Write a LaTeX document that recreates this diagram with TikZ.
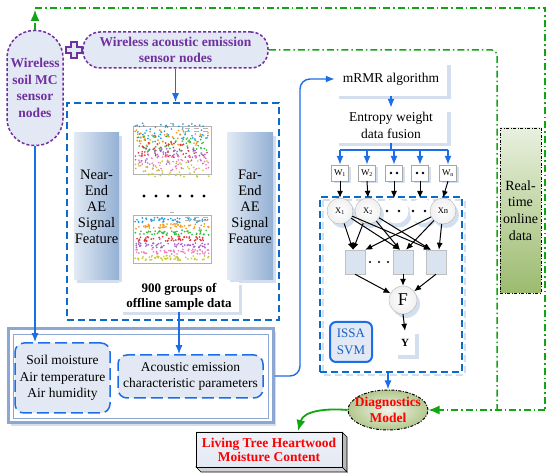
\documentclass[tikz,border=0pt]{standalone}
\usepackage{fontspec}
\setmainfont{Liberation Serif}
\usetikzlibrary{arrows.meta,shapes.geometric,calc}
\definecolor{pur}{HTML}{7030A0}
\definecolor{nodefill}{HTML}{E3E9F4}
\definecolor{bl}{HTML}{1C6EE8}
\definecolor{dbl}{HTML}{0A6CC8}
\definecolor{grn}{HTML}{12A512}
\definecolor{shadowbl}{HTML}{D3DFEF}
\definecolor{nearL}{HTML}{E2EAF4}
\definecolor{nearR}{HTML}{93B0D4}
\definecolor{outerbl}{HTML}{8CA7D3}
\definecolor{sqfill}{HTML}{DAE3F0}
\definecolor{rtTop}{HTML}{E8F0DE}
\definecolor{rtBot}{HTML}{9CBB6E}
\definecolor{dgIn}{HTML}{F0F4E6}
\definecolor{dgOut}{HTML}{B3C88E}
\definecolor{dotblue}{HTML}{1F9BE0}
\definecolor{dotorange}{HTML}{F39A1E}
\definecolor{dotgreen}{HTML}{2DBE3C}
\definecolor{dotred}{HTML}{E2363A}
\definecolor{dotpurple}{HTML}{A45FD0}
\definecolor{dotpink}{HTML}{F07AC0}
\definecolor{dotolive}{HTML}{C8C83A}
\newcommand\myscatter[3]{%
  \fill[white] (#1,#2) rectangle (#1+86,#2+60);
  \draw[gray!60,line width=0.3pt] (#1+6,#2+5) rectangle (#1+84,#2+53);
  \foreach \c [count=\i] in {dotblue,dotorange,dotgreen,dotred,dotpurple,dotpink,dotolive}{
    \foreach \k in {1,...,55}{
      \pgfmathsetmacro\px{#1+8+rnd*74}
      \pgfmathsetmacro\py{#2+10+(\i-1)*6.3+(rnd-0.5)*#3}
      \fill[\c] (\px,\py) circle (0.95pt);
    }}
  \foreach \k in {0,1,2}{\fill[gray!60] (#1+58+\k*9,#2+7) rectangle ++(5,0.6);
    \fill[gray!60] (#1+58+\k*9,#2+10) rectangle ++(5,0.6);}
  \fill[gray!60] (#1+43,#2+2) rectangle ++(4,0.7);
}
\begin{document}
\begin{tikzpicture}[x=1pt,y=-1pt,
  pnode/.style={draw=pur, line width=1.5pt, dash pattern=on 3pt off 2pt, fill=nodefill, text=pur,
    font=\fontsize{13.5}{16.5}\selectfont\bfseries, align=center, inner sep=0pt},
  gline/.style={draw=grn, line width=1.5pt, dash pattern=on 7pt off 3pt on 1.5pt off 3pt},
  bline/.style={draw=bl, line width=1.4pt},
  barrow/.style={bline, -{Latex[length=9pt,width=7pt]}},
  karrow/.style={draw=black, line width=1pt, -{Latex[length=7pt,width=6pt]}},
  dbox/.style={draw=dbl, line width=1.5pt, dash pattern=on 7pt off 4pt},
  txt/.style={font=\fontsize{13.5}{16.5}\selectfont, align=center, inner sep=0pt},
  wbox/.style={draw=gray!70, fill=white, minimum width=17pt, minimum height=16pt, inner sep=0pt,
    font=\fontsize{9}{10}\selectfont},
  cnode/.style={circle, draw=gray!60, inner color=white, outer color=gray!12, minimum size=26pt,
    inner sep=0pt, font=\fontsize{8.5}{9}\selectfont},
  sqnode/.style={draw=gray!50, fill=sqfill, minimum width=20pt, minimum height=24pt, inner sep=0pt},
]
\useasboundingbox (0,0) rectangle (550,476);
\fill[white] (0,0) rectangle (550,476);
\pgfmathsetseed{7}

% ---------- left part ----------
\node[pnode, minimum width=56pt, minimum height=115pt, rounded corners=27pt] (soilmc) at (35,88) {Wireless\\soil MC\\sensor\\nodes};
\node[pnode, minimum width=185pt, minimum height=36pt, rounded corners=17pt] (aenode) at (175.5,50) {Wireless acoustic emission\\sensor nodes};
\draw[pur, line width=1.3pt, fill=nodefill] (71,42)--(77,42)--(77,47)--(82,47)--(82,53)--(77,53)--(77,58)--(71,58)--(71,53)--(66,53)--(66,47)--(71,47)--cycle;

\node[dbox, minimum width=212pt, minimum height=217pt] (offbox) at (173,211.5) {};

\fill[shadowbl] (77,136) rectangle (122,283);
\node[left color=nearL, right color=nearR, minimum width=45pt, minimum height=147pt, txt,
  font=\fontsize{14.5}{16}\selectfont] (near) at (96.5,206.5) {Near-\\End\\AE\\Signal\\Feature};
\fill[shadowbl] (230,136) rectangle (276,283);
\node[left color=nearL, right color=nearR, minimum width=46pt, minimum height=147pt, txt,
  font=\fontsize{14.5}{16}\selectfont] (far) at (250,206.5) {Far-\\End\\AE\\Signal\\Feature};

\myscatter{127}{121}{16}
\myscatter{127}{210}{5}
\foreach \x in {144,156,168,180,192,204} \fill (\x,196) circle (1.6pt);

\fill[shadowbl] (123,285) rectangle (242,315);
\node[fill=white, minimum width=120pt, minimum height=30pt, txt, font=\fontsize{13}{15}\selectfont\bfseries]
  (groups) at (179,297) {900 groups of\\offline sample data};

\fill[shadowbl] (11,332) rectangle (276,426);
\node[draw=outerbl, line width=3pt, fill=white, minimum width=265pt, minimum height=94pt] (outer) at (140.5,376) {};
\draw[outerbl, line width=0.8pt] (13,334) rectangle (268,418);

\node[draw=bl, line width=1.5pt, dash pattern=on 12pt off 5pt, rounded corners=9pt, fill=nodefill,
  minimum width=95pt, minimum height=70pt, txt] (soilbox) at (62.5,378) {Soil moisture\\Air temperature\\Air humidity};
\node[draw=bl, line width=1.5pt, dash pattern=on 12pt off 5pt, rounded corners=9pt, fill=nodefill,
  minimum width=145pt, minimum height=43pt, txt] (acbox) at (190.5,376.5) {Acoustic emission\\characteristic parameters};

% ---------- right part ----------
\fill[shadowbl] (339,65) rectangle (451,99);
\node[fill=white, minimum width=112pt, minimum height=34pt, txt] (mrmr) at (391,79) {mRMR algorithm};
\fill[shadowbl] (339,112) rectangle (451,146);
\node[fill=white, minimum width=112pt, minimum height=35pt, txt] (entropy) at (391,125.5) {Entropy weight\\data fusion};

\foreach \n/\x in {1/340,2/367,3/394,4/420,5/448}{
  \fill[shadowbl] (\x-6.5,167) rectangle (\x+10.5,183);
}
\node[wbox] (w1) at (340,173) {W\textsubscript{1}};
\node[wbox] (w2) at (367,173) {W\textsubscript{2}};
\node[wbox] (w3) at (394,173) {};
\node[wbox] (w4) at (420,173) {};
\node[wbox] (w5) at (448,173) {W\textsubscript{n}};
\foreach \x in {394,420}{\fill (\x-3,173) circle (1.3pt); \fill (\x+3,173) circle (1.3pt);}

\draw[shadowbl, line width=1.5pt, dash pattern=on 7pt off 4pt] (323,200) rectangle (465,375);
\node[dbox, minimum width=142pt, minimum height=175pt] (inner) at (391,284.5) {};

% phantom circles
\fill[shadowbl] (399,215) circle (12.5pt); \fill[white] (396,211) circle (12.5pt);
\fill[shadowbl] (425,215) circle (12.5pt); \fill[white] (422,211) circle (12.5pt);
\coordinate (p3) at (394,198);
\coordinate (p4) at (420,198);
\foreach \x in {340,368,443} \fill[shadowbl] (\x+3,215) circle (13pt);
\node[cnode] (c1) at (340,211) {X\textsubscript{1}};
\node[cnode] (c2) at (368,211) {X\textsubscript{2}};
\node[cnode] (cn) at (443,211) {Xn};
\foreach \x in {387,399,413,425} \fill (\x,211) circle (1.3pt);

\node[sqnode] (s1) at (355,262) {};
\node[sqnode] (s2) at (403,262) {};
\node[sqnode] (s3) at (436,262) {};
\foreach \x in {370,379,388} \fill (\x,262) circle (1.1pt);

\fill[shadowbl] (406,304) circle (14pt);
\node[circle, draw=gray!60, inner color=white, outer color=gray!12, minimum size=28pt, inner sep=0pt,
  font=\fontsize{18}{18}\selectfont] (F) at (403,300) {F};

\fill[shadowbl] (398,334) rectangle (419,359);
\node[fill=white, minimum width=20pt, minimum height=24pt, inner sep=0pt, font=\fontsize{11}{11}\selectfont\bfseries] (Y) at (405,343) {Y};

\node[draw=bl, line width=2pt, rounded corners=6pt, fill=nodefill, minimum width=42pt, minimum height=40pt,
  txt, text=bl!85!black, font=\fontsize{13}{16.5}\selectfont] (issa) at (351,342) {ISSA\\SVM};

\node[ellipse, draw=black, line width=1pt, dash pattern=on 3pt off 1.5pt on 1pt off 1.5pt,
  inner color=dgIn, outer color=dgOut, minimum width=80pt, minimum height=40pt, inner sep=0pt] (diag) at (388,410) {};
\node[text=red, font=\fontsize{13.5}{16}\selectfont\bfseries, align=center, inner sep=0pt] (diagtxt) at (388,410) {Diagnostics\\Model};

\draw[black, line width=0.6pt, fill=gray!55] (342,432)--(347,437)--(347,472)--(342,467)--cycle;
\draw[black, line width=0.6pt, fill=gray!35] (196,467)--(342,467)--(347,472)--(201,472)--cycle;
\node[draw=black, line width=0.8pt, top color=nodefill!60, bottom color=nodefill, minimum width=146pt, minimum height=35pt,
  text=red, font=\fontsize{13.5}{14}\selectfont\bfseries, align=center, inner sep=0pt] (living) at (269,449.5) {Living Tree Heartwood\\Moisture Content};

\node[draw=black, line width=0.8pt, dash pattern=on 3pt off 1.5pt on 1pt off 1.5pt, top color=rtTop, bottom color=rtBot,
  minimum width=41pt, minimum height=165pt, txt, font=\fontsize{14}{16.7}\selectfont] (rt) at (520.5,210.5) {Real-\\time\\online\\data};

% ---------- connectors ----------
\draw[gline, -{Latex[length=11pt,width=9pt]}] (soilmc.north) -- (35,10);
\coordinate (gtl) at (35,8);
\coordinate (gtr) at (545,8);
\coordinate (gbr) at (545,410);
\draw[gline] (gtl) -- (gtr) -- (gbr);
\draw[gline, -{Latex[length=11pt,width=9pt]}] (gbr) -- (diag.east);
\coordinate (g2a) at (497,50);
\coordinate (g2b) at (497,410);
\draw[gline, rounded corners=5pt] (aenode.east) -- (g2a) -- (g2b);

\draw[barrow] (aenode.south) -- (aenode.south |- offbox.north);
\draw[barrow] (soilmc.south) -- (soilmc.south |- soilbox.north);
\draw[barrow] (groups.south) -- (groups.south |- acbox.north);
\coordinate (bl1) at (300,376);
\coordinate (bl2) at (300,79);
\draw[barrow, rounded corners=10pt] (outer.east) -- (bl1) -- (bl2) -- (mrmr.west);
\draw[barrow] (mrmr.south) -- (entropy.north);
\coordinate (dist) at (391,150);
\coordinate (distL) at (340,150);
\coordinate (distR) at (448,150);
\draw[bline] (entropy.south) -- (dist);
\draw[bline] (distL) -- (distR);
\foreach \w in {w1,w2,w3,w4,w5} \draw[barrow] (\w.north |- dist) -- (\w.north);

\draw[karrow] (w1.south) -- (c1.north);
\draw[karrow] (w2.south) -- (c2.north);
\draw[karrow] (w3.south) -- (p3);
\draw[karrow] (w4.south) -- (p4);
\draw[karrow] (w5.south) -- (cn.north);

\foreach \c in {c1,c2}{
  \draw[karrow] (\c) -- ($(s1.north)+(-2,0)$);
  \draw[karrow] (\c) -- ($(s2.north)+(-3,0)$);
  \draw[karrow] (\c) -- ($(s3.north)+(-5,0)$);
}
\draw[karrow] (cn) -- (s1.north east);
\draw[karrow] (cn) -- ($(s2.north)+(3,0)$);
\draw[karrow] (cn) -- ($(s3.north)+(3,0)$);

\draw[karrow] (s1.south) -- (F);
\draw[karrow] (s2.south) -- (F.north);
\draw[karrow] (s3.south) -- (F);
\draw[karrow] (F.south) -- (Y.north);

\draw[barrow] (diag.north |- inner.south) -- (diag.north);
\draw[draw=grn, line width=1.8pt, -{Latex[length=11pt,width=9pt]}] (diag.west) to[out=175,in=75] (298,431);
\end{tikzpicture}
\end{document}
